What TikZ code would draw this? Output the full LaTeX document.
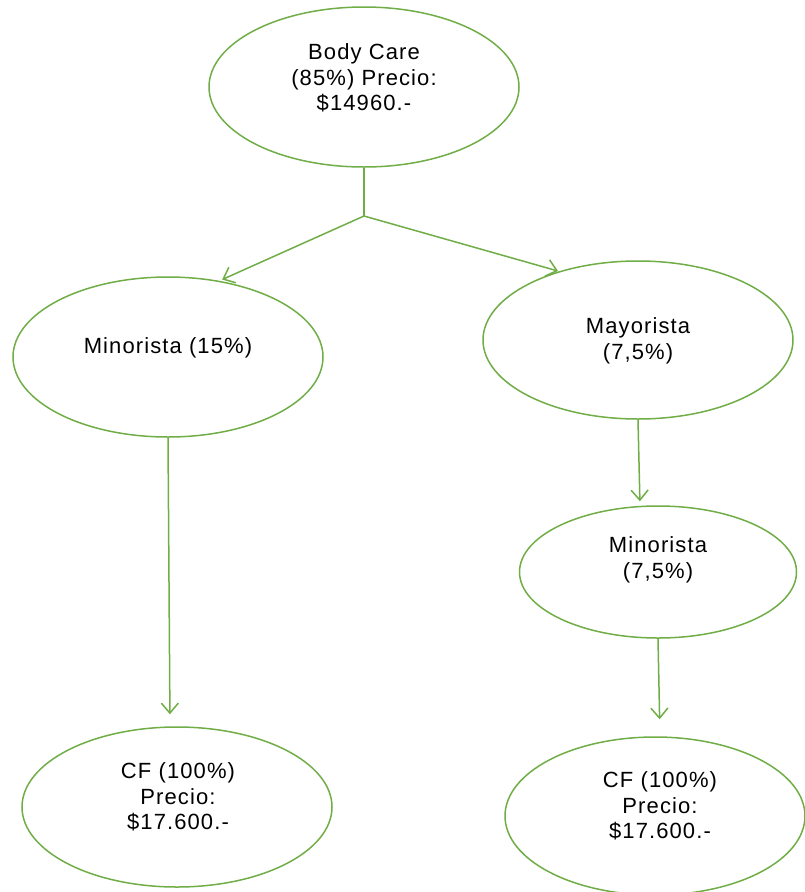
\documentclass[tikz,border=0pt]{standalone}
\usepackage{fontspec}
\setmainfont[LetterSpace=5]{Liberation Sans}
\usetikzlibrary{shapes.geometric,arrows.meta}
\definecolor{leafgreen}{RGB}{112,173,71}
\tikzset{
  oval/.style={draw=leafgreen, line width=1.5pt, ellipse, inner sep=0pt},
  lbl/.style={align=center, font=\fontsize{22}{25.5}\selectfont},
  arr/.style={draw=leafgreen, line width=1.5pt, -{Straight Barb[length=10pt,width=17pt]}},
}
\begin{document}
\begin{tikzpicture}[x=1pt,y=-1pt]
  \useasboundingbox (0,0) rectangle (805,892);

  % Draw ellipses
  \node[oval, minimum width=310pt, minimum height=160pt] (bodycare) at (364,87) {};
  \node[oval, minimum width=310pt, minimum height=160pt] (minA) at (168,357) {};
  \node[oval, minimum width=310pt, minimum height=158pt] (mayor) at (638,340) {};
  \node[oval, minimum width=277pt, minimum height=132pt] (minB) at (658,572) {};
  \node[oval, minimum width=310pt, minimum height=160pt] (cfA) at (177,807) {};
  \node[oval, minimum width=300pt, minimum height=158pt] (cfB) at (655,816) {};

  % Add labels
  \node[lbl] (bodycareT) at (364,78) {Body Care\\(85\%) Precio:\\\$14960.-};
  \node[lbl] (minAT) at (168,348) {Minorista (15\%)};
  \node[lbl] (mayorT) at (638,341) {Mayorista\\(7,5\%)};
  \node[lbl] (minBT) at (658,560) {Minorista\\(7,5\%)};
  \node[lbl] (cfAT) at (178,797) {CF (100\%)\\Precio:\\\$17.600.-};
  \node[lbl] (cfBT) at (660,806) {CF (100\%)\\Precio:\\\$17.600.-};

  % Draw connectors
  \coordinate (split) at (364,216);
  \draw[leafgreen, line width=1.5pt] (bodycare.south) -- (split);
  \draw[arr, shorten >=3pt] (split) -- (minA.56);
  \draw[arr, shorten >=1pt] (split) -- (mayor.139);
  \draw[arr, shorten >=12pt] (minA.south) -- ([xshift=-7pt]cfA.north);
  \draw[arr, shorten >=4pt] (mayor.south) -- ([xshift=-18pt]minB.north);
  \draw[arr, shorten >=17pt] (minB.south) -- ([xshift=5pt]cfB.north);
\end{tikzpicture}
\end{document}
